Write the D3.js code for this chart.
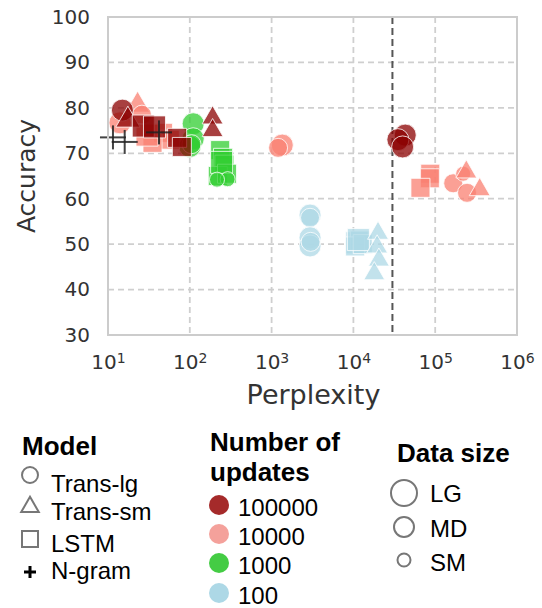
<!DOCTYPE html>
<html>
<head>
<meta charset="utf-8">
<script src="https://cdn.jsdelivr.net/npm/d3@7"></script>
<style>
  body { margin: 0; background: #fff; }
  svg { display: block; }
</style>
</head>
<body>
<div id="chart"></div>
<script>

/* DATA */

// one entry per point, parallel arrays
const perplexity = [
  15, 17.5, 27, 37, 70, 80, 190, 190, 43000, 35000, 40000,
  14, 23, 26, 47, 57, 35, 30, 1350, 1200, 87000, 86000, 66000, 166000, 245000, 220000, 240000, 350000,
  110, 110, 100, 105, 235, 255, 265, 220, 285, 245, 290, 215,
  2950, 2950, 2950, 2950, 3000, 11000, 12000, 10500, 13000, 11500, 20000, 19500, 20500, 18000,
  11.5, 16, 42
];
const accuracy = [
  79.5, 77.3, 76, 75.8, 73.4, 71.4, 77.8, 75, 74, 73, 71.4,
  76.7, 80.6, 78.5, 74.5, 73, 72.3, 74, 71.8, 71.2, 65.5, 64.5, 62.4, 63.4, 61.3, 65.5, 65.9, 62,
  76.5, 73.2, 71.5, 72, 70.7, 69, 67.5, 65, 65.5, 68, 64.3, 64.2,
  56.4, 55.8, 51.4, 49.6, 50.5, 50.3, 50.8, 49.5, 50, 51, 52.4, 49.4, 46.5, 43.5,
  73.5, 72.5, 74.6
];
const model = [
  "lg", "sm", "lstm", "lstm", "lstm", "lstm", "sm", "sm", "lg", "lg", "lg",
  "lg", "sm", "lg", "lstm", "lstm", "lstm", "lstm", "lg", "lg", "lstm", "lstm", "lstm", "lg", "lg", "lg", "sm", "sm",
  "lg", "lg", "lg", "lg", "lstm", "lstm", "lstm", "lstm", "lstm", "lstm", "lg", "lg",
  "lg", "lg", "lg", "lg", "lg", "lstm", "lstm", "lstm", "lstm", "lstm", "sm", "sm", "sm", "sm",
  "ng", "ng", "ng"
];
const updates = [
  100000, 100000, 100000, 100000, 100000, 100000, 100000, 100000, 100000, 100000, 100000,
  10000, 10000, 10000, 10000, 10000, 10000, 10000, 10000, 10000, 10000, 10000, 10000, 10000, 10000, 10000, 10000, 10000,
  1000, 1000, 1000, 1000, 1000, 1000, 1000, 1000, 1000, 1000, 1000, 1000,
  100, 100, 100, 100, 100, 100, 100, 100, 100, 100, 100, 100, 100, 100,
  0, 0, 0
];
const dataSize = [
  "LG", "LG", "LG", "LG", "MD", "MD", "MD", "MD", "LG", "LG", "LG",
  "LG", "LG", "MD", "MD", "MD", "MD", "LG", "LG", "MD", "MD", "MD", "MD", "MD", "MD", "SM", "MD", "MD",
  "LG", "LG", "LG", "MD", "MD", "MD", "MD", "MD", "MD", "LG", "SM", "SM",
  "LG", "MD", "LG", "LG", "MD", "LG", "MD", "MD", "MD", "LG", "MD", "MD", "MD", "MD",
  "LG", "LG", "LG"
];

const yTicks = [30, 40, 50, 60, 70, 80, 90, 100];
const xTicks = [1e1, 1e2, 1e3, 1e4, 1e5, 1e6];
const cutoff = 3e4;

const modelNames = ["Trans-lg", "Trans-sm", "LSTM", "N-gram"];
const modelKeys = ["lg", "sm", "lstm", "ng"];
const updateNames = ["100000", "10000", "1000", "100"];
const sizeNames = ["LG", "MD", "SM"];

/* LAYOUT */

const width = 542;
const height = 608;
const plot = { left: 108, right: 517, top: 17, bottom: 335 };

const svg = d3.select("#chart")
  .append("svg")
  .attr("width", width)
  .attr("height", height);

// SCALES
const xScale = d3.scaleLog()
  .domain([1e1, 1e6])
  .range([plot.left, plot.right]);

const yScale = d3.scaleLinear()
  .domain([30, 100])
  .range([plot.bottom, plot.top]);

const markColor = d3.scaleOrdinal()
  .domain([100000, 10000, 1000, 100])
  .range(["#8b0000", "#fa8072", "#32cd32", "#add8e6"]);

const legendColor = ["#a52a2a", "#f4a19b", "#44cc44", "#add8e6"];

const radius = { LG: 11, MD: 9.5, SM: 7.5 };

// GRID
svg.append("g")
  .selectAll("line")
  .data(xTicks.slice(1, -1))
  .join("line")
  .attr("x1", d => xScale(d))
  .attr("x2", d => xScale(d))
  .attr("y1", plot.top)
  .attr("y2", plot.bottom)
  .attr("stroke", "#cfcfcf")
  .attr("stroke-width", 1.8)
  .attr("stroke-dasharray", "6,4");

svg.append("g")
  .selectAll("line")
  .data(yTicks.slice(1, -1))
  .join("line")
  .attr("x1", plot.left)
  .attr("x2", plot.right)
  .attr("y1", d => yScale(d))
  .attr("y2", d => yScale(d))
  .attr("stroke", "#cfcfcf")
  .attr("stroke-width", 1.8)
  .attr("stroke-dasharray", "6,4");

// cutoff line
svg.append("line")
  .attr("x1", xScale(cutoff))
  .attr("x2", xScale(cutoff))
  .attr("y1", plot.top)
  .attr("y2", plot.bottom)
  .attr("stroke", "#555")
  .attr("stroke-width", 2)
  .attr("stroke-dasharray", "7,4");

// POINTS
const points = d3.range(perplexity.length).map(i => ({
  x: perplexity[i], y: accuracy[i], model: model[i], upd: updates[i], size: dataSize[i]
}));

function markPath(m, r) {
  if (m === "lg") return d3.symbol(d3.symbolCircle, Math.PI * r * r)();
  if (m === "lstm") return d3.symbol(d3.symbolSquare, (r * 2) * (r * 2))();
  if (m === "sm") return d3.symbol(d3.symbolTriangle, 0.433 * (r * 2.2) * (r * 2.2))();
  return null;
}

// fewer updates drawn first, so the 100000 marks sit on top
svg.append("g")
  .selectAll("path")
  .data(points.filter(d => d.model !== "ng").sort((a, b) => a.upd - b.upd))
  .join("path")
  .attr("transform", d => `translate(${xScale(d.x)},${yScale(d.y)})`)
  .attr("d", d => markPath(d.model, radius[d.size]))
  .attr("fill", d => markColor(d.upd))
  .attr("fill-opacity", 0.75)
  .attr("stroke", "#fff")
  .attr("stroke-opacity", 0.8)
  .attr("stroke-width", 1);

// N-gram crosses
const cross = svg.append("g")
  .selectAll("g")
  .data(points.filter(d => d.model === "ng"))
  .join("g")
  .attr("transform", d => `translate(${xScale(d.x)},${yScale(d.y)})`);

cross.append("line")
  .attr("x1", -13).attr("x2", 13)
  .attr("stroke", "#222").attr("stroke-width", 2).attr("stroke-opacity", 0.85);
cross.append("line")
  .attr("y1", -12).attr("y2", 12)
  .attr("stroke", "#222").attr("stroke-width", 2).attr("stroke-opacity", 0.85);

// FRAME
svg.append("rect")
  .attr("x", plot.left)
  .attr("y", plot.top)
  .attr("width", plot.right - plot.left)
  .attr("height", plot.bottom - plot.top)
  .attr("fill", "none")
  .attr("stroke", "#cccccc")
  .attr("stroke-width", 2);

// AXES
const yAxis = d3.axisLeft(yScale)
  .tickValues(yTicks)
  .tickSize(0)
  .tickPadding(18);

svg.append("g")
  .attr("transform", `translate(${plot.left},0)`)
  .call(yAxis)
  .call(g => g.select(".domain").remove())
  .selectAll("text")
  .attr("fill", "#333")
  .style("font-family", "DejaVu Sans")
  .style("font-size", "20px");

const xAxis = d3.axisBottom(xScale)
  .tickValues(xTicks)
  .tickSize(0)
  .tickPadding(20)
  .tickFormat(() => "");

const xg = svg.append("g")
  .attr("transform", `translate(0,${plot.bottom})`)
  .call(xAxis)
  .call(g => g.select(".domain").remove());

xg.selectAll(".tick text")
  .attr("fill", "#333")
  .style("font-family", "DejaVu Sans")
  .style("font-size", "20px")
  .each(function(d) {
    const t = d3.select(this);
    t.append("tspan").text("10");
    t.append("tspan")
      .attr("dy", "-0.45em")
      .style("font-size", "14px")
      .text(Math.round(Math.log10(d)));
  });

// axis titles
svg.append("text")
  .attr("transform", `translate(35,${(plot.top + plot.bottom) / 2}) rotate(-90)`)
  .attr("text-anchor", "middle")
  .attr("fill", "#333")
  .style("font-family", "DejaVu Sans")
  .style("font-size", "25px")
  .text("Accuracy");

svg.append("text")
  .attr("x", (plot.left + plot.right) / 2 + 1)
  .attr("y", 404)
  .attr("text-anchor", "middle")
  .attr("fill", "#333")
  .style("font-family", "DejaVu Sans")
  .style("font-size", "27px")
  .text("Perplexity");

// LEGENDS
const legendFont = "'Liberation Sans', Arial, sans-serif";

function legendTitle(x, y, txt) {
  svg.append("text")
    .attr("x", x).attr("y", y)
    .style("font-family", legendFont)
    .style("font-weight", "bold")
    .style("font-size", "26px")
    .text(txt);
}

function legendLabel(x, y, txt) {
  svg.append("text")
    .attr("x", x).attr("y", y)
    .style("font-family", legendFont)
    .style("font-size", "24px")
    .text(txt);
}

// Model
legendTitle(22, 455, "Model");
const modelMarkY = [475, 507, 539, 572];
const modelTextY = [492, 520, 552, 579];
modelKeys.forEach((k, i) => {
  const g = svg.append("g").attr("transform", `translate(30,${modelMarkY[i]})`);
  if (k === "ng") {
    g.append("path").attr("d", "M-6,0H6M0,-6V6")
      .attr("stroke", "#000").attr("stroke-width", 3);
  } else {
    g.append("path")
      .attr("d", markPath(k, 8))
      .attr("fill", "none")
      .attr("stroke", "#777")
      .attr("stroke-width", 2);
  }
  legendLabel(51, modelTextY[i], modelNames[i]);
});

// Number of updates
legendTitle(210, 451, "Number of");
legendTitle(210, 481, "updates");
const updY = [505, 534, 563, 593];
updateNames.forEach((u, i) => {
  svg.append("circle")
    .attr("cx", 219).attr("cy", updY[i])
    .attr("r", 10)
    .attr("fill", legendColor[i]);
  legendLabel(238, updY[i] + 11, u);
});

// Data size
legendTitle(397, 462, "Data size");
const sizeY = [493, 527, 560];
const sizeR = [13, 10, 6.5];
const sizeTextY = [502, 537, 571];
sizeNames.forEach((s, i) => {
  svg.append("circle")
    .attr("cx", 404).attr("cy", sizeY[i])
    .attr("r", sizeR[i])
    .attr("fill", "none")
    .attr("stroke", "#777")
    .attr("stroke-width", 2);
  legendLabel(430, sizeTextY[i], s);
});

</script>
</body>
</html>
